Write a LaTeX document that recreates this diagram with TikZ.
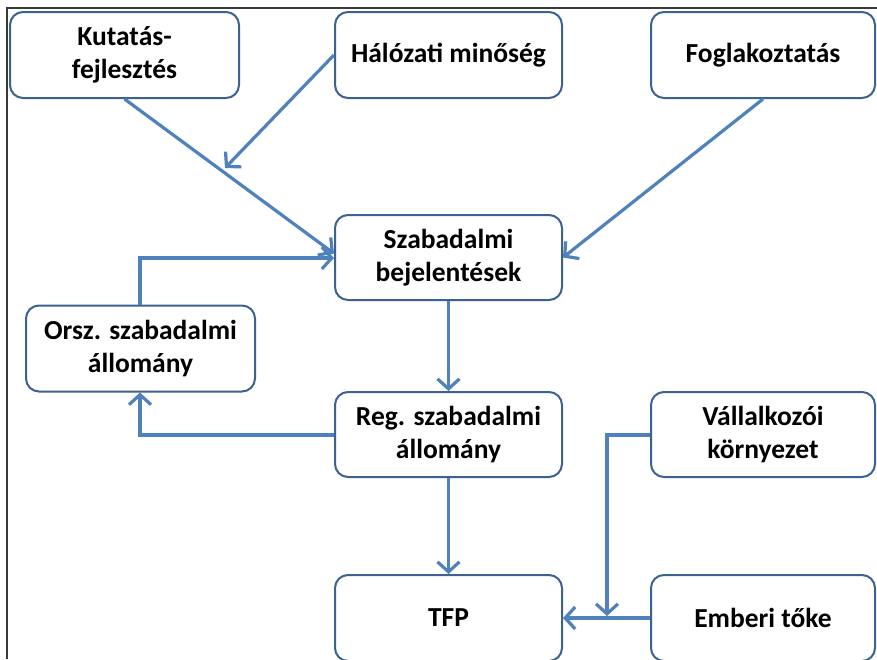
\documentclass[tikz,border=0pt]{standalone}
\usepackage{fontspec}
\setmainfont{Carlito}
\usetikzlibrary{arrows.meta,calc}
\definecolor{boxline}{HTML}{3B6290}
\definecolor{arrowblue}{HTML}{4F81BD}
\definecolor{framegray}{HTML}{3A3A3A}
\tikzset{
  box/.style={draw=boxline, line width=2pt, fill=white, rounded corners=13pt,
    align=center, font=\fontsize{27.5}{33}\selectfont\bfseries, inner sep=0pt},
  conn/.style={draw=arrowblue, line width=3.2pt,
    -{Straight Barb[length=10pt,width=22pt,line width=3.2pt]}},
  frameline/.style={draw=framegray, line width=2pt}
}
\begin{document}
\begin{tikzpicture}[x=1pt,y=-1pt]
\useasboundingbox (0,0) rectangle (877,659);
\clip (0,0) rectangle (877,659);
\fill[white] (0,0) rectangle (877,659);
\draw[frameline] (7,659) -- (7,8) -- (877,8);

\node[box, minimum width=229pt, minimum height=86pt] (kf) at (124.5,55) {Kutatás-\\fejlesztés};
\node[box, minimum width=227pt, minimum height=86pt] (hm) at (448.5,55) {Hálózati minőség};
\node[box, minimum width=224pt, minimum height=86pt, text depth=4pt] (fo) at (763,55) {Foglakoztatás};
\node[box, minimum width=227pt, minimum height=85pt] (sb) at (448.5,257.5) {Szabadalmi\\bejelentések};
\node[box, minimum width=229pt, minimum height=86pt] (os) at (140.5,348.5) {Orsz. szabadalmi\\állomány};
\node[box, minimum width=227pt, minimum height=85pt] (rs) at (448.5,434.5) {Reg. szabadalmi\\állomány};
\node[box, minimum width=224pt, minimum height=85pt] (vk) at (763,434.5) {Vállalkozói\\környezet};
\node[box, minimum width=227pt, minimum height=86pt] (tfp) at (448.5,618) {TFP};
\node[box, minimum width=224pt, minimum height=86pt] (et) at (763,618) {Emberi tőke};

\coordinate (hmend) at (225,168);
\coordinate (sbin1) at ($(sb.west)+(0,-4)$);
\coordinate (osup) at (140,258);
\coordinate (vkcorner) at (607,435);
\coordinate (vkend) at (607,616);
\coordinate (rscorner) at (140,435);

\draw[conn] (kf.south) -- (sbin1);
\draw[conn] (hm.west) -- (hmend);
\draw[conn] (fo.south) -- (sb.east);
\draw[conn] (os.north -| osup) -- (osup) -- (sb.west |- osup);
\draw[conn] (sb.south) -- (rs.north);
\draw[conn] (rs.west |- rscorner) -- (rscorner) -- (os.south -| rscorner);
\draw[conn] (rs.south) -- (tfp.north);
\draw[conn] (vk.west |- vkcorner) -- (vkcorner) -- (vkend);
\draw[conn] (et.west) -- (tfp.east);
\end{tikzpicture}
\end{document}
